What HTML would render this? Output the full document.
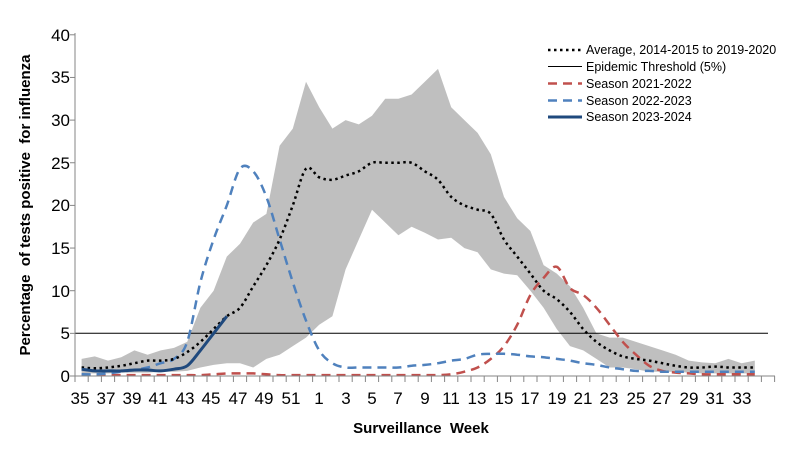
<!DOCTYPE html>
<html><head><meta charset="utf-8"><style>
html,body{margin:0;padding:0;background:#fff;}
svg{display:block;font-family:"Liberation Sans",Arial,sans-serif;}
</style></head><body>
<svg id="c" width="801" height="452" viewBox="0 0 801 452">
<rect width="801" height="452" fill="#fff"/>
<g id="band"></g>
<line x1="75" y1="333.3" x2="768" y2="333.3" stroke="#000" stroke-width="1"/>
<g id="lines"></g>
<g stroke="#868686" stroke-width="1">
<line x1="75" y1="33" x2="75" y2="376"/>
<line x1="75" y1="376" x2="775" y2="376"/>
</g>
<g id="ticks" stroke="#868686" stroke-width="1"></g>
<g font-size="17" text-anchor="end" fill="#000">
<text x="70" y="382">0</text><text x="70" y="339">5</text><text x="70" y="297">10</text><text x="70" y="254">15</text>
<text x="70" y="211">20</text><text x="70" y="169">25</text><text x="70" y="126">30</text><text x="70" y="83">35</text><text x="70" y="41">40</text>
</g>
<g font-size="17" text-anchor="middle" fill="#000">
<text x="80" y="404">35</text><text x="106" y="404">37</text><text x="132" y="404">39</text><text x="158" y="404">41</text>
<text x="185" y="404">43</text><text x="211" y="404">45</text><text x="238" y="404">47</text><text x="264" y="404">49</text>
<text x="291" y="404">51</text><text x="319" y="404">1</text><text x="346" y="404">3</text><text x="372" y="404">5</text>
<text x="398" y="404">7</text><text x="425" y="404">9</text><text x="451" y="404">11</text><text x="477" y="404">13</text>
<text x="504" y="404">15</text><text x="530" y="404">17</text><text x="557" y="404">19</text><text x="583" y="404">21</text>
<text x="609" y="404">23</text><text x="636" y="404">25</text><text x="662" y="404">27</text><text x="689" y="404">29</text>
<text x="715" y="404">31</text><text x="742" y="404">33</text>
</g>
<text x="421" y="433" font-size="15" font-weight="bold" text-anchor="middle" xml:space="preserve">Surveillance  Week</text>
<text transform="translate(30,205) rotate(-90)" font-size="15" font-weight="bold" text-anchor="middle" xml:space="preserve">Percentage  of tests positive  for influenza</text>
<g font-size="12.5" fill="#000">
<line x1="548" y1="50" x2="583" y2="50" stroke="#000" stroke-width="2.5" stroke-dasharray="2.5,3.5"/>
<text x="586" y="54">Average, 2014-2015 to 2019-2020</text>
<line x1="548" y1="66.5" x2="582" y2="66.5" stroke="#000" stroke-width="1"/>
<text x="586" y="71">Epidemic Threshold (5%)</text>
<line x1="548" y1="83.5" x2="582" y2="83.5" stroke="#c0504d" stroke-width="2.5" stroke-dasharray="9,6"/>
<text x="586" y="88">Season 2021-2022</text>
<line x1="548" y1="100.5" x2="582" y2="100.5" stroke="#4f81bd" stroke-width="2.5" stroke-dasharray="9,6"/>
<text x="586" y="105">Season 2022-2023</text>
<line x1="548" y1="117" x2="582" y2="117" stroke="#1f497d" stroke-width="3"/>
<text x="586" y="121">Season 2023-2024</text>
</g>
</svg>
<script>
var X=function(i){return 81.6+13.2*i;},Y=function(v){return 376-8.53*v;};
var up=[2,2.3,1.8,2.2,3,2.5,3,3.3,4,8,10,14,15.5,18,19,27,29,34.5,31.5,29,30,29.5,30.5,32.5,32.5,33,34.5,36,31.5,30,28.5,26,21,18.5,17,13,12,10.5,8,5,4.5,4.5,4,3.5,3,2.5,1.8,1.6,1.5,2,1.5,1.8];
var lo=[0.3,0.3,0.3,0.4,0.4,0.4,0.5,0.5,0.6,1,1.3,1.5,1.5,1,2,2.5,3.5,4.5,6,7,12.5,16,19.5,18,16.5,17.5,16.8,16,16.2,15,14.5,12.5,12,11.8,10,8,5.5,3.5,3,2,1,1,0.8,0.5,0.5,0.5,0.4,0.3,0.3,0.3,0.3,0.3];
var avg=[1,0.9,1,1.2,1.5,1.8,1.8,2,2.8,4,5.5,7,8,10.5,13,16,20,24.3,23.3,23,23.5,24,25,25,25,25,24,23,21,20,19.5,19,16,14,12,10,9,7.5,5.5,4,3,2.3,2,1.8,1.5,1.2,1,1,1.1,1,1,1];
var b22=[0.2,0.2,0.3,0.5,0.7,1,1.5,2,4,11,16,20,24.3,24,21,16,11,6.5,3,1.5,1,1,1,1,1,1.2,1.3,1.5,1.8,2,2.5,2.6,2.6,2.5,2.3,2.2,2,1.8,1.5,1.3,1,0.8,0.6,0.6,0.5,0.5,0.5,0.5,0.5,0.5,0.5,0.5];
var r21=[0.1,0.1,0.1,0.1,0.1,0.1,0.1,0.1,0.1,0.1,0.2,0.3,0.3,0.3,0.2,0.1,0.1,0.1,0.1,0.1,0.1,0.1,0.1,0.1,0.1,0.1,0.1,0.1,0.2,0.5,1,2,3.5,6,9.5,11.5,12.8,10.3,9.5,8,6,4,2.5,1.2,0.6,0.4,0.3,0.2,0.2,0.2,0.2,0.2];
var d23=[0.8,0.6,0.6,0.6,0.7,0.7,0.6,0.8,1.2,3,5,7];
function pts(a){return a.map(function(v,i){return X(i).toFixed(1)+','+Y(v).toFixed(1);}).join(' ');}
function smooth(a){var p=a.map(function(v,i){return [X(i),Y(v)];});var d='M'+p[0][0].toFixed(1)+','+p[0][1].toFixed(1);
for(var i=0;i<p.length-1;i++){var p0=p[i-1]||p[i],p1=p[i],p2=p[i+1],p3=p[i+2]||p2;
var c1=[p1[0]+(p2[0]-p0[0])/6,p1[1]+(p2[1]-p0[1])/6],c2=[p2[0]-(p3[0]-p1[0])/6,p2[1]-(p3[1]-p1[1])/6];
d+=' C'+c1[0].toFixed(1)+','+c1[1].toFixed(1)+' '+c2[0].toFixed(1)+','+c2[1].toFixed(1)+' '+p2[0].toFixed(1)+','+p2[1].toFixed(1);}return d;}
var ns='http://www.w3.org/2000/svg';
function el(p,t,at){var e=document.createElementNS(ns,t);for(var k in at)e.setAttribute(k,at[k]);document.getElementById(p).appendChild(e);}
var bandPts=pts(up)+' '+lo.map(function(v,i){return [X(i),Y(v)];}).reverse().map(function(p){return p[0].toFixed(1)+','+p[1].toFixed(1);}).join(' ');
el('band','polygon',{points:bandPts,fill:'#bfbfbf'});
el('lines','path',{d:smooth(r21),fill:'none',stroke:'#c0504d','stroke-width':2.5,'stroke-dasharray':'9,6'});
el('lines','path',{d:smooth(b22),fill:'none',stroke:'#4f81bd','stroke-width':2.5,'stroke-dasharray':'9,6'});
el('lines','path',{d:smooth(avg),fill:'none',stroke:'#000','stroke-width':2.5,'stroke-dasharray':'2.5,3.5'});
el('lines','path',{d:smooth(d23),fill:'none',stroke:'#1f497d','stroke-width':3});
for(var i=0;i<=53;i++){var x=75+13.2*i;el('ticks','line',{x1:x,y1:376,x2:x,y2:382});}
for(var j=0;j<=8;j++){var y=376-42.65*j;el('ticks','line',{x1:70,y1:y,x2:75,y2:y});}
</script>
</body></html>
